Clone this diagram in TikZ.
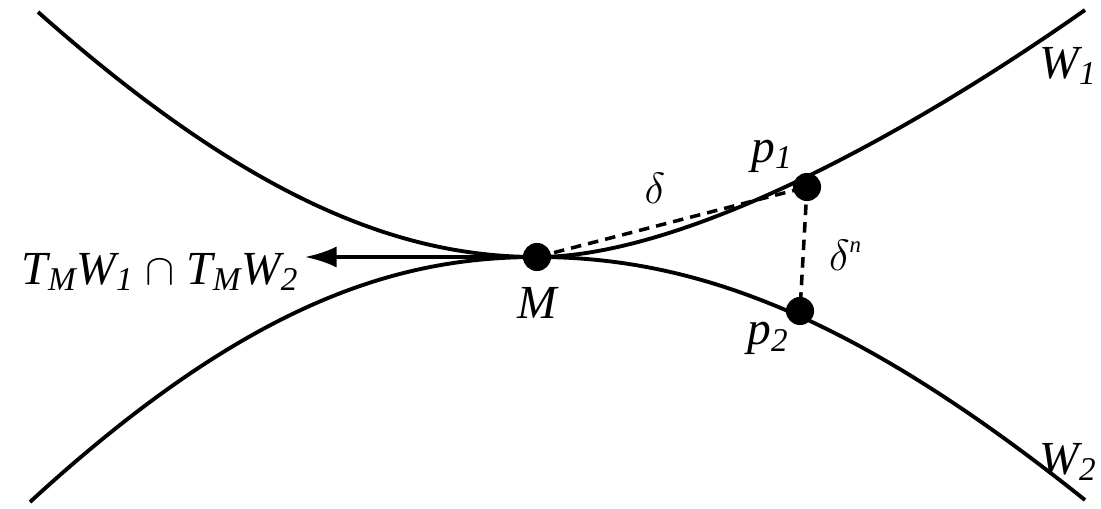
\documentclass[tikz,border=0pt]{standalone}
\usepackage{fontspec}
\setmainfont{Liberation Serif}
\usetikzlibrary{arrows.meta}
\begin{document}
\begin{tikzpicture}[x=0.02cm,y=-0.02cm,
  curve/.style={line width=2.2pt},
  dot/.style={circle,fill=black,inner sep=0pt,minimum size=16pt},
  lbl/.style={font=\fontsize{27}{30}\selectfont\itshape}]
\useasboundingbox (0,0) rectangle (1101,509);
\coordinate (a1) at (38,12);
\coordinate (b1) at (1085,10);
\coordinate (a2) at (30,502);
\coordinate (b2) at (1085,500);
\node[dot] (M) at (537,257) {};
\node[dot] (p1) at (807,187) {};
\node[dot] (p2) at (800,311) {};
\draw[curve] (a1) .. controls (250,200) and (400,257) .. (M.center) .. controls (680,257) and (900,140) .. (b1);
\draw[curve] (a2) .. controls (250,300) and (400,257) .. (M.center) .. controls (700,257) and (860,320) .. (b2);
\coordinate (tip) at (305,257);
\draw[line width=2.2pt,-{Latex[length=18pt,width=12pt]}] (M.center) -- (tip);
\draw[line width=2pt,dash pattern=on 6pt off 4pt] (M.center) -- (p1.center);
\draw[line width=2pt,dash pattern=on 6pt off 4pt] (p1.center) -- (p2.center);
\node[lbl] (lM) at (537,303) {M};
\node[lbl] (lp1) at (772,156) {p\textsubscript{1}};
\node[lbl] (lp2) at (768,338) {p\textsubscript{2}};
\node[lbl] (ld) at (655,188) {\fontsize{32}{34}\selectfont$\delta$};
\node[lbl] (ldn) at (845,255) {\fontsize{32}{34}\selectfont$\delta$\raisebox{10pt}{\fontsize{13}{14}\selectfont n}};
\node[lbl] (lW1) at (1068,66) {W\textsubscript{1}};
\node[lbl] (lW2) at (1068,462) {W\textsubscript{2}};
\node[lbl] (lT) at (160,272) {T\textsubscript{M}W\textsubscript{1} {\upshape$\cap$} T\textsubscript{M}W\textsubscript{2}};
\end{tikzpicture}
\end{document}
